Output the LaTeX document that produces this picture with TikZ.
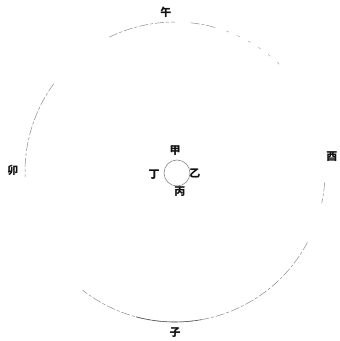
\documentclass[tikz,border=0pt]{standalone}
\usepackage{fontspec}
\newfontfamily\cjk{Noto Sans CJK SC}
\usepackage{xcolor,tikz}
\definecolor{ink}{HTML}{111111}
\definecolor{faint}{HTML}{8A8A8A}
\tikzset{ring/.style={draw=faint,line width=.5pt,dash pattern=on 9pt off 2pt on 3pt off 2pt},
ringl/.style={draw=faint!70,line width=.5pt,dash pattern=on 3pt off 9pt},
ringd/.style={draw=faint!60!ink,line width=.6pt},
inner/.style={draw=faint,line width=.6pt},
lab/.style={font=\cjk\bfseries\fontsize{11}{11}\selectfont,text=ink,inner sep=0pt}}

\begin{document}
\begin{tikzpicture}[x=1pt,y=1pt]
\useasboundingbox (0,0) rectangle (340,341);
\coordinate (O) at (175,169);
\coordinate (o) at (177,168);
% outer ring, only partly seen
\draw[ring] (O) ++(116:150) arc[start angle=116,end angle=90,radius=150];
\draw[ring] (O) ++(84:150) arc[start angle=84,end angle=74,radius=150];
\draw[ringl] (O) ++(70:150) arc[start angle=70,end angle=44,radius=150];
\draw[ring] (O) ++(144:150) arc[start angle=144,end angle=182,radius=150];
\draw[ring] (O) ++(-4:150) arc[start angle=-4,end angle=-12,radius=150];
\draw[ring] (O) ++(-28:150) arc[start angle=-28,end angle=-128,radius=150];
\draw[ringd] (O) ++(-80:150) arc[start angle=-80,end angle=-105,radius=150];
% inner ring
\draw[inner] (o) circle[radius=13];
\node[lab] (wu) at (166,329) {午};
\node[lab] (mao) at (13,171) {卯};
\node[lab] (you) at (332,184) {酉};
\node[lab] (zi) at (175,8) {子};
\node[lab] (jia) at (175,190) {甲};
\node[lab] (yi) at (195,168) {乙};
\node[lab] (bing) at (180,149) {丙};
\node[lab] (ding) at (154,166) {丁};
\end{tikzpicture}
\end{document}
